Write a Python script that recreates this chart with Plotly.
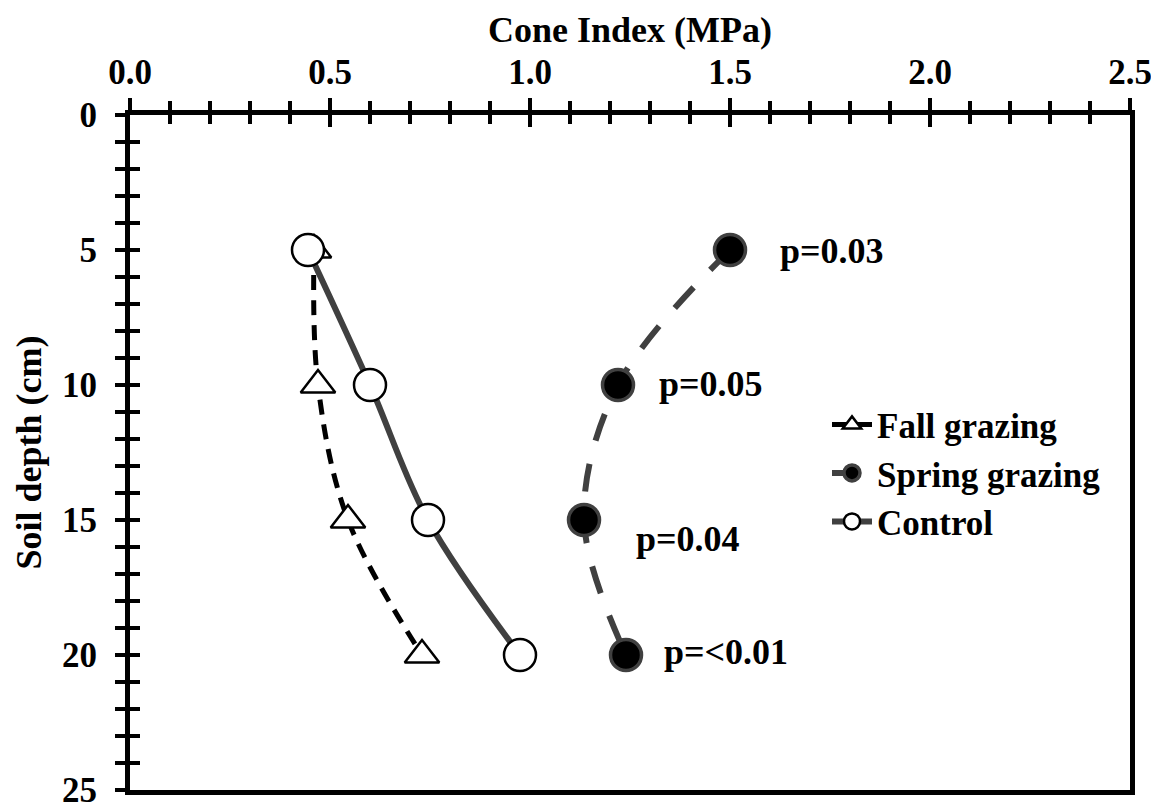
import plotly.graph_objects as go

depth = [5, 10, 15, 20]
fall = [0.46, 0.47, 0.545, 0.73]
spring = [1.50, 1.22, 1.135, 1.24]
control = [0.445, 0.60, 0.745, 0.975]
p_labels = ["p=0.03", "p=0.05", "p=0.04", "p=<0.01"]
p_x = [1.755, 1.4525, 1.396, 1.49]
p_y = [5.05, 9.96, 15.7, 19.9]
x_ticks = [0, 0.5, 1.0, 1.5, 2.0, 2.5]
x_ticktext = ["0.0", "0.5", "1.0", "1.5", "2.0", "2.5"]
y_ticks = [0, 5, 10, 15, 20, 25]
x_title = "Cone Index (MPa)"
y_title = "Soil depth (cm)"

FONT = "Liberation Serif"
TICKFS = 35
TXTFS = 36

fig = go.Figure()

fig.add_trace(go.Scatter(
    x=fall, y=depth, name="<b>Fall grazing</b>", mode="lines+markers",
    line=dict(color="black", width=5, dash="15px,10px", shape="spline"),
    marker=dict(symbol="triangle-up", size=30, color="white",
                line=dict(color="black", width=2.5)),
))
fig.add_trace(go.Scatter(
    x=spring, y=depth, name="<b>Spring grazing</b>", mode="lines+markers",
    line=dict(color="#404040", width=6, dash="28px,24px", shape="spline"),
    marker=dict(symbol="circle", size=31, color="black",
                line=dict(color="#404040", width=3.5)),
))
fig.add_trace(go.Scatter(
    x=control, y=depth, name="<b>Control</b>", mode="lines+markers",
    line=dict(color="#404040", width=6, shape="spline"),
    marker=dict(symbol="circle", size=32, color="white",
                line=dict(color="black", width=2.5)),
))

for t, xx, yy in zip(p_labels, p_x, p_y):
    fig.add_annotation(x=xx, y=yy, text="<b>%s</b>" % t, showarrow=False,
                       font=dict(family=FONT, size=TXTFS, color="black"))

# axis titles
fig.add_annotation(x=0.5, y=1, xref="paper", yref="paper", xanchor="center", yanchor="middle",
                   yshift=85, text="<b>%s</b>" % x_title, showarrow=False,
                   font=dict(family=FONT, size=TXTFS, color="black"))
fig.add_annotation(x=0, y=0.5, xref="paper", yref="paper", xanchor="center", yanchor="middle",
                   xshift=-102, textangle=-90, text="<b>%s</b>" % y_title, showarrow=False,
                   font=dict(family=FONT, size=TXTFS, color="black"))

common = dict(showgrid=False, zeroline=False, automargin=False, tickcolor="black")

fig.update_layout(
    width=1151, height=815,
    margin=dict(l=122, r=29, t=107, b=33),
    plot_bgcolor="white", paper_bgcolor="white",
    font=dict(family=FONT, size=TICKFS, color="black"),
    showlegend=True,
    legend=dict(x=0.697, y=0.585, xanchor="left", yanchor="top",
                font=dict(family=FONT, size=35, color="black"),
                bgcolor="rgba(0,0,0,0)", tracegroupgap=0, itemwidth=40),
    xaxis=dict(range=[0, 2.5], side="top", mirror=True, showline=True,
               linecolor="black", linewidth=5, ticks="outside", ticklen=12, tickwidth=4,
               tickmode="array", tickvals=x_ticks,
               ticktext=["<b>%s</b>" % s for s in x_ticktext],
               tickfont=dict(size=TICKFS), ticklabelstandoff=0, ticklabeloverflow="allow",
               minor=dict(dtick=0.1, ticks="outside", ticklen=9, tickwidth=4, tickcolor="black"),
               **common),
    yaxis=dict(range=[25, 0], mirror=True, showline=True,
               linecolor="black", linewidth=5, ticks="outside", ticklen=10, tickwidth=4,
               tickmode="array", tickvals=y_ticks,
               ticktext=["<b>%d</b>" % v for v in y_ticks],
               tickfont=dict(size=TICKFS), ticklabelstandoff=11, ticklabeloverflow="allow",
               minor=dict(dtick=1, ticks="outside", ticklen=10, tickwidth=4, tickcolor="black"),
               **common),
    xaxis2=dict(range=[0, 2.5], overlaying="x", side="top", showline=False,
                ticks="inside", ticklen=12, tickwidth=4,
                tickmode="array", tickvals=x_ticks, showticklabels=False,
                minor=dict(dtick=0.1, ticks="inside", ticklen=9, tickwidth=4, tickcolor="black"),
                **common),
    yaxis2=dict(range=[25, 0], overlaying="y", side="left", showline=False,
                ticks="inside", ticklen=10, tickwidth=4,
                tickmode="array", tickvals=y_ticks, showticklabels=False,
                minor=dict(dtick=1, ticks="inside", ticklen=10, tickwidth=4, tickcolor="black"),
                **common),
)
fig.add_trace(go.Scatter(x=[None], y=[None], xaxis="x2", yaxis="y2", showlegend=False,
                         hoverinfo="skip"))

fig.write_html("out.html")
